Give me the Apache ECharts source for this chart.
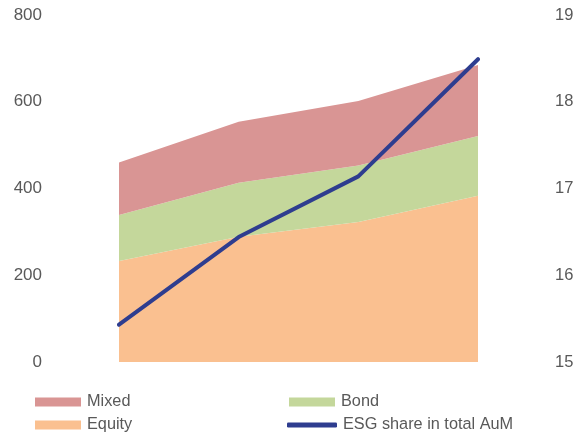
<!DOCTYPE html>
<html>
<head>
<meta charset="utf-8">
<script src="https://cdn.jsdelivr.net/npm/echarts@6/dist/echarts.min.js"></script>
<style>html,body{margin:0;padding:0;background:#fff}#c{width:577px;height:436px}</style>
</head>
<body>
<div id="c"></div>
<script>
const categories = ['2019', '2020', '2021', '2022'];
const equity = [233, 289, 323, 383];
const bond = [106, 124, 130, 138];
const mixed = [121, 141, 149, 164];
const esgShare = [15.43, 16.44, 17.14, 18.49];
const leftTicks = [0, 800, 200];
const rightTicks = [15, 19, 1];

const FONT = '"Liberation Sans", Arial, sans-serif';
const TXT = '#595959';
const chart = echarts.init(document.getElementById('c'), null, {renderer: 'canvas'});

function legendAt(name, left, top, icon, w, h) {
  return {
    data: [name], left: left, top: top, padding: 0, icon: icon,
    itemWidth: w, itemHeight: h, itemGap: 0,
    textStyle: {color: TXT, fontSize: 16.3, fontFamily: FONT, padding: [0, 0, 0, 1]},
    selectedMode: false
  };
}

chart.setOption({
  animation: false,
  grid: {left: 119, right: 99, top: 15, bottom: 74, containLabel: false},
  xAxis: {
    type: 'category', data: categories, boundaryGap: false,
    axisLine: {show: false}, axisTick: {show: false}, axisLabel: {show: false}, splitLine: {show: false}
  },
  yAxis: [
    {type: 'value', min: leftTicks[0], max: leftTicks[1], interval: leftTicks[2],
     axisLine: {show: false}, axisTick: {show: false}, splitLine: {show: false},
     axisLabel: {color: TXT, fontSize: 17, fontFamily: FONT, margin: 77}},
    {type: 'value', min: rightTicks[0], max: rightTicks[1], interval: rightTicks[2],
     axisLine: {show: false}, axisTick: {show: false}, splitLine: {show: false},
     axisLabel: {color: TXT, fontSize: 16.5, fontFamily: FONT, margin: 77}}
  ],
  legend: [
    legendAt('Mixed', 35, 394, 'rect', 46, 9),
    legendAt('Bond', 289, 394, 'rect', 46, 9),
    legendAt('Equity', 35, 417, 'rect', 46, 9),
    legendAt('ESG share in total AuM', 287, 417, 'roundRect', 50, 5)
  ],
  series: [
    {name: 'Equity', type: 'line', stack: 'aum', data: equity, symbol: 'none',
     lineStyle: {width: 0}, areaStyle: {color: '#fac090', opacity: 1}, itemStyle: {color: '#fac090'}},
    {name: 'Bond', type: 'line', stack: 'aum', data: bond, symbol: 'none',
     lineStyle: {width: 0}, areaStyle: {color: '#c4d79b', opacity: 1}, itemStyle: {color: '#c4d79b'}},
    {name: 'Mixed', type: 'line', stack: 'aum', data: mixed, symbol: 'none',
     lineStyle: {width: 0}, areaStyle: {color: '#d99594', opacity: 1}, itemStyle: {color: '#d99594'}},
    {name: 'ESG share in total AuM', type: 'line', yAxisIndex: 1, data: esgShare, symbol: 'none',
     lineStyle: {width: 4, color: '#2e3d8f', cap: 'round', join: 'round'}, itemStyle: {color: '#2e3d8f'}, z: 5}
  ]
});
</script>
</body>
</html>
